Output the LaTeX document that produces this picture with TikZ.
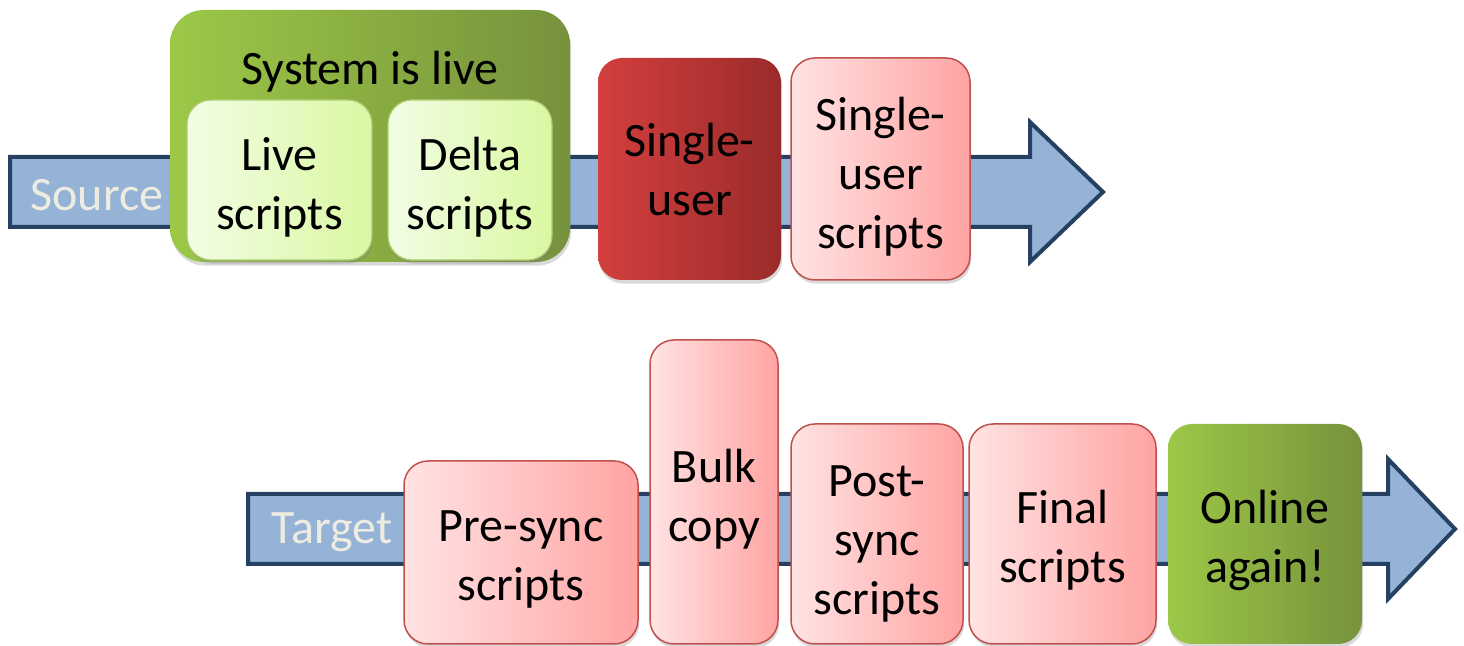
\documentclass[tikz,border=0pt]{standalone}
\usepackage{fontspec}
\setmainfont{Carlito}
\usetikzlibrary{shadows, positioning}
\definecolor{arrowFill}{HTML}{95B3D7}
\definecolor{arrowLine}{HTML}{254061}
\definecolor{arrowText}{HTML}{EEECE1}
\definecolor{greenL}{HTML}{9CC847}
\definecolor{greenR}{HTML}{76923C}
\definecolor{paleL}{HTML}{F2FDE4}
\definecolor{paleR}{HTML}{D9F8A2}
\definecolor{paleLine}{HTML}{AFCB72}
\definecolor{redL}{HTML}{D33F3E}
\definecolor{redR}{HTML}{9A2B2A}
\definecolor{pinkL}{HTML}{FFE3E3}
\definecolor{pinkR}{HTML}{FFA4A3}
\definecolor{pinkLine}{HTML}{C0504D}
\newcommand{\bigtxt}{\fontsize{24}{29.5}\selectfont}
\tikzset{
  stage/.style={rounded corners=12pt, inner sep=0pt,
    drop shadow={shadow xshift=0.6pt, shadow yshift=-1.8pt, opacity=0.3}},
  pinkbox/.style={stage, draw=pinkLine, line width=0.75pt, left color=pinkL, right color=pinkR},
  redbox/.style={stage, left color=redL, right color=redR},
  greenbox/.style={stage, left color=greenL, right color=greenR},
  palebox/.style={stage, draw=paleLine, line width=0.6pt, left color=paleL, right color=paleR},
  stagetext/.style={font=\bigtxt, align=center, inner sep=0pt},
  flowarrow/.style={fill=arrowFill, draw=arrowLine, line width=2pt, line join=miter},
  flowlabel/.style={text=arrowText, font=\bigtxt, inner sep=0pt},
}
\def\txtdrop{7}
% box from (x0,y0) to (x1,y1), in pixels, text dropped by \txtdrop
\newcommand{\StageBox}[7][]{%
  \pgfmathsetmacro{\bw}{(#5-#3)/2}%
  \pgfmathsetmacro{\bh}{(#6-#4)/2}%
  \node[#1, minimum width=\bw pt, minimum height=\bh pt] (#2) at ({(#3+#5)/2},{(#4+#6)/2}) {};
  \node[stagetext] (#2Txt) at ({(#3+#5)/2},{(#4+#6)/2+\txtdrop}) {#7};
}
% 1: name, 2: x start, 3: x head, 4: x tip, 5: y centre, 6: label, 7: label x
\newcommand{\FlowArrow}[7]{%
  \draw[flowarrow] (#2,#5-35) -- (#3,#5-35) -- (#3,#5-70) -- (#4,#5)
    -- (#3,#5+70) -- (#3,#5+35) -- (#2,#5+35) -- cycle;
  \node[flowlabel] (#1) at (#7,#5+3) {#6};
}
\begin{document}
\begin{tikzpicture}[x=0.5pt, y=-0.5pt]
  \useasboundingbox (0,0) rectangle (1464,646);

  % Source line
  \FlowArrow{src}{10}{1030}{1103}{192}{Source}{97}
  \StageBox[greenbox, rounded corners=17pt]{sysLive}{170}{10}{570}{262}{}
  \node[stagetext] (sysLiveTxt) at (370,72) {System is live};
  \StageBox[palebox]{liveScr}{187}{100}{372}{260}{Live\\scripts}
  \StageBox[palebox]{deltaScr}{388}{100}{552}{260}{Delta\\scripts}
  \def\txtdrop{1}
  \StageBox[redbox]{singleUser}{598}{58}{781}{280}{Single-\\user}
  \def\txtdrop{8}
  \StageBox[pinkbox]{singleUserScr}{791}{58}{970}{280}{Single-\\user\\scripts}

  % Target line
  \def\txtdrop{7}
  \FlowArrow{tgt}{248}{1388}{1455}{529}{Target}{332}
  \StageBox[pinkbox]{preSync}{404}{461}{638}{644}{Pre-sync\\scripts}
  \StageBox[pinkbox]{bulkCopy}{650}{340}{778}{644}{Bulk\\copy}
  \def\txtdrop{10}
  \StageBox[pinkbox]{postSync}{791}{424}{963}{644}{Post-\\sync\\scripts}
  \def\txtdrop{6}
  \StageBox[pinkbox]{finalScr}{969}{424}{1156}{644}{Final\\scripts}
  \StageBox[greenbox]{online}{1168}{424}{1362}{644}{Online\\again!}
\end{tikzpicture}
\end{document}
